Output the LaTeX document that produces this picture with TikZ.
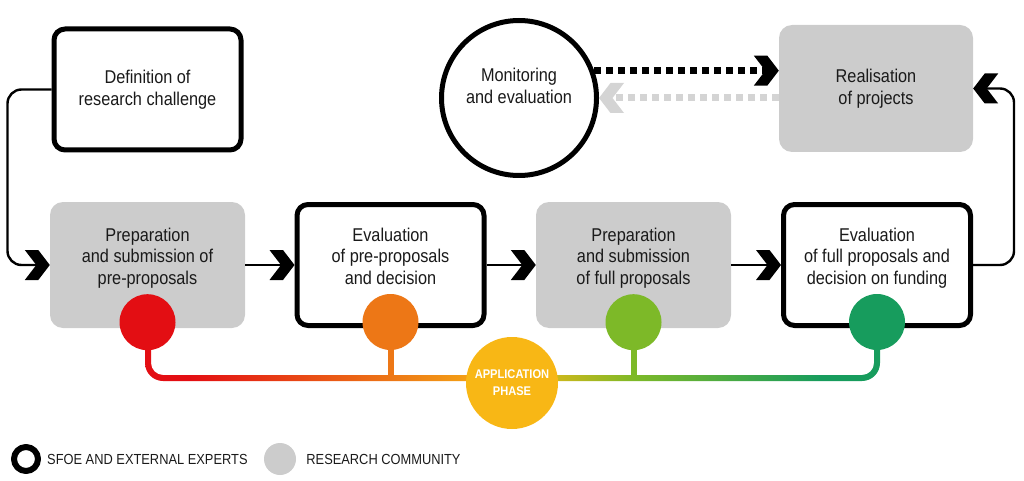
\documentclass[tikz,border=0pt]{standalone}
\usepackage{fontspec}
\setmainfont{Liberation Sans}[FakeStretch=0.88]
\usetikzlibrary{arrows.meta,positioning}

\definecolor{boxgray}{HTML}{CCCCCC}
\definecolor{backgray}{HTML}{D4D4D4}
\definecolor{ink}{HTML}{1A1A1A}
\definecolor{cRed}{HTML}{E30E13}
\definecolor{cOrange}{HTML}{ED7716}
\definecolor{cYellow}{HTML}{F8B715}
\definecolor{cLime}{HTML}{7DB928}
\definecolor{cGreen}{HTML}{179C5D}
% the phase bar: path box is mapped onto 25bp..75bp
\pgfdeclarehorizontalshading{phase}{100bp}{color(0bp)=(cRed); color(28bp)=(cRed); color(41.7bp)=(cOrange); color(50bp)=(cYellow); color(58.3bp)=(cLime); color(71bp)=(cGreen); color(100bp)=(cGreen)}

% fat chevron head with flat cut ends
\pgfdeclarearrow{
  name = Chevron,
  setup code = {
    \pgfarrowssettipend{0pt}
    \pgfarrowssetlineend{-13.5pt}
    \pgfarrowssetvisualbackend{-25pt}
    \pgfarrowssetbackend{-25pt}
    \pgfarrowsupperhullpoint{-25pt}{15pt}
    \pgfarrowsupperhullpoint{0pt}{0pt}
  },
  drawing code = {
    \pgfpathmoveto{\pgfqpoint{0pt}{0pt}}
    \pgfpathlineto{\pgfqpoint{-11.5pt}{15pt}}
    \pgfpathlineto{\pgfqpoint{-25pt}{15pt}}
    \pgfpathlineto{\pgfqpoint{-13.5pt}{0pt}}
    \pgfpathlineto{\pgfqpoint{-25pt}{-15pt}}
    \pgfpathlineto{\pgfqpoint{-11.5pt}{-15pt}}
    \pgfpathclose
    \pgfusepathqfill
  }
}

\begin{document}
\begin{tikzpicture}[x=1pt, y=-1pt, line join=round,
  txt/.style={align=center, text=ink, font=\fontsize{18.5}{21.5}\selectfont},
  expert/.style={txt, draw=black, line width=5pt, rounded corners=11pt, fill=white,
    minimum width=187pt, minimum height=121pt},
  community/.style={txt, fill=boxgray, rounded corners=13pt,
    minimum width=195pt, minimum height=126pt},
  link/.style={-Chevron, draw=black, line width=2.4pt, rounded corners=14pt},
  dotted link/.style={-Chevron, line width=7pt, dash pattern=on 7pt off 5pt},
  phasedot/.style={circle, inner sep=0pt, minimum size=56pt},
  legend/.style={text=ink, inner sep=0pt, font=\fontsize{14.6}{17}\selectfont}]

  % ── top row ──
  \node[expert] (defn) at (147.5,89.5) {Definition of\\research challenge};
  \node[txt, circle, draw=black, line width=5pt, fill=white, minimum size=155pt]
    (mon) at (519,98) {Monitoring\\and evaluation\\[3pt]\mbox{}};
  \node[community, minimum width=194pt, minimum height=127pt] (real) at (876,88.5)
    {Realisation\\of projects};

  % ── application row (text sits a little high: the dots take the bottom) ──
  \node[community] (prep)  at (147.5,265) {Preparation\\and submission of\\pre-proposals\\[-4pt]\mbox{}};
  \node[expert]    (evalp) at (390.5,265) {Evaluation\\of pre-proposals\\and decision\\[-4pt]\mbox{}};
  \node[community] (prepf) at (633.5,265) {Preparation\\and submission\\of full proposals\\[-4pt]\mbox{}};
  \node[expert]    (evalf) at (877,265)   {Evaluation\\of full proposals and\\decision on funding\\[-4pt]\mbox{}};

  % ── connectors ──
  \draw[link] (defn.west) -- ++(-44,0) |- (prep.west);
  \draw[link] (prep) -- (evalp);
  \draw[link] (evalp) -- (prepf);
  \draw[link] (prepf) -- (evalf);
  \draw[link] (evalf.east) -- ++(41,0) |- (real.east);
  \draw[dotted link, draw=black] (mon.20) -- (mon.20 -| real.west);
  \draw[dotted link, draw=backgray] (real.west |- mon.east) -- (mon.east);

  % ── phase dots ──
  \foreach \b/\c in {prep/cRed, evalp/cOrange, prepf/cLime, evalf/cGreen}
    \node[phasedot, fill=\c] (dot-\b) at ([yshift=6pt]\b.south) {};

  % ── phase bar: one shaded band, two straight stubs ──
  \coordinate (bar) at (0,378);
  \draw[line width=6pt, cOrange] (dot-evalp.south) -- (dot-evalp.south |- bar);
  \draw[line width=6pt, cLime] (dot-prepf.south) -- (dot-prepf.south |- bar);
  \shade[shading=phase] (145,346) [rounded corners=18pt] -- (145,381) -- (880,381)
    [sharp corners] -- (880,346) -- (874,346) [rounded corners=12pt] -- (874,375)
    -- (151,375) [sharp corners] -- (151,346) -- cycle;
  \node[circle, fill=cYellow, minimum size=92pt, inner sep=0pt, align=center, text=white,
        font=\bfseries\fontsize{12.6}{17}\selectfont] (appl) at (512,383) {APPLICATION\\PHASE};

  % ── legend ──
  \node[circle, draw=black, line width=6pt, minimum size=24pt, inner sep=0pt] (key-sfoe) at (26,459) {};
  \node[legend, right=6pt of key-sfoe] {SFOE AND EXTERNAL EXPERTS};
  \node[circle, fill=boxgray, minimum size=32pt, inner sep=0pt] (key-comm) at (280,459) {};
  \node[legend, right=10pt of key-comm] {RESEARCH COMMUNITY};

  \path[use as bounding box] (0,0) rectangle (1024,481);
\end{tikzpicture}
\end{document}
